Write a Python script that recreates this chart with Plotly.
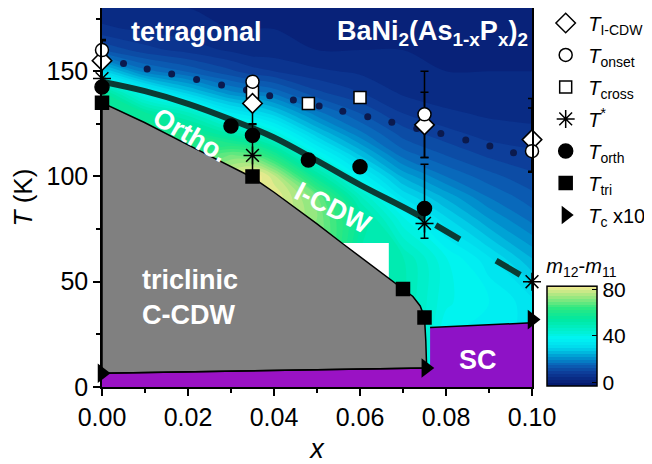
import plotly.graph_objects as go

# ---------------- data ----------------
# background field m12-m11
grid_x = [0, 0.01, 0.02, 0.03, 0.035, 0.04, 0.05, 0.06, 0.07, 0.08, 0.09, 0.1]
grid_T = [0, 20, 40, 60, 80, 90, 100, 110, 120, 130, 140, 150, 160, 170, 180]
grid_z = [
    [60, 60, 60, 60, 60, 60, 60, 55, 50, 36, 34, 33],
    [60, 60, 60, 60, 60, 60, 60, 55, 50, 37, 35, 34],
    [60, 60, 60, 62, 65, 65, 65, 55, 50, 40, 37, 33],
    [60, 60, 60, 65, 70, 72, 72, 52, 50, 40, 33, 25],
    [60, 60, 62, 70, 78, 80, 72, 55, 40, 30, 22, 16],
    [60, 60, 65, 75, 82, 82, 70, 48, 32, 24, 17, 13],
    [60, 62, 66, 80, 85, 78, 55, 37, 24, 17, 13, 10],
    [60, 62, 62, 70, 68, 60, 40, 27, 16, 12, 9, 8],
    [60, 60, 60, 52, 48, 42, 28, 18, 11, 8, 6, 5],
    [58, 55, 48, 35, 32, 28, 18, 12, 7, 5, 4, 4],
    [55, 38, 28, 20, 18, 16, 10, 7, 4, 3, 3, 3],
    [30, 18, 14, 10, 8, 7, 5, 4, 3, 2, 2, 2],
    [12, 8, 6, 4, 3, 3, 2, 2, 2, 1, 1, 1],
    [5, 4, 3, 2, 2, 2, 1, 1, 1, 1, 1, 1],
    [3, 2, 2, 1, 1, 1, 1, 1, 1, 1, 1, 1],
]

# triclinic (C-CDW) boundary
tri_x = [0, 0.01, 0.02, 0.03, 0.035, 0.04, 0.05, 0.0557, 0.06, 0.0666, 0.07, 0.0723, 0.074, 0.075, 0.0753, 0.0755]
tri_T = [135, 125.5, 115, 104.5, 99.5, 92.5, 77.5, 68.5, 62, 51.6, 46.5, 43, 38.5, 33, 22, 9]
# Tc x10 line under the triclinic phase
tcline_x = [0, 0.0755]
tcline_T = [6.5, 9]
# SC dome top
sc_x = [0.0763, 0.1]
sc_T = [28.2, 30.5]
# missing-data patch
gap_x = [0.0549, 0.0667]
gap_T = [50, 68.4]

# fit lines
orth_fit_x = [0, 0.01, 0.02, 0.03, 0.04, 0.05, 0.06, 0.07, 0.075]
orth_fit_T = [145, 140.5, 134.5, 127, 118.5, 107.5, 96, 85.5, 80]
orth_dash_x = [0.075, 0.08, 0.085, 0.09, 0.095, 0.1]
orth_dash_T = [80, 74, 68, 62, 56, 50]
dot_x = [0.005, 0.0105, 0.0162, 0.022, 0.0278, 0.0336, 0.039, 0.0445, 0.0505, 0.056,
         0.0618, 0.0674, 0.0732, 0.0788, 0.0846, 0.0902, 0.0957]
dot_T = [153.7, 151, 148.6, 146, 143.4, 141, 138.3, 136.3, 133.4, 131,
         128.3, 125.7, 122.8, 120.4, 117.3, 114.4, 111.3]

# markers
icdw_x = [0, 0.035, 0.075, 0.1]
icdw_T = [155, 134.7, 124.5, 117.5]
icdw_err = [10, 10, 15.5, 15]
onset_x = [0, 0.035, 0.075, 0.1]
onset_T = [160, 145, 129.5, 112]
onset_err_p = [4.5, 0, 20.5, 25]
onset_err_m = [0, 0, 20.5, 10]
cross_x = [0.035, 0.048, 0.06]
cross_T = [140, 134.7, 137.5]
star_x = [0, 0.035, 0.075, 0.1]
star_T = [146.5, 110, 77.7, 50]
star_err_p = [0, 15, 0, 0]
star_err_m = [0, 10, 0, 0]
orth_x = [0, 0.03, 0.035, 0.048, 0.06, 0.075]
orth_T = [142.5, 124, 119.5, 107.8, 104.6, 84.8]
orth_err_p = [0, 0, 0, 0, 0, 21]
orth_err_m = [0, 0, 0, 0, 0, 14.2]
tri_pts_x = [0, 0.035, 0.07, 0.075]
tri_pts_T = [135, 100, 46.5, 33]
tc_x = [0, 0.0753, 0.1]
tc_T = [6.5, 9, 32]

FONT = "Arial, Liberation Sans, sans-serif"

cscale = [
    [0.0, "#00166a"], [0.035, "#071f76"], [0.128, "#0d3c98"], [0.209, "#0a62b8"],
    [0.291, "#0096d0"], [0.384, "#00d8ec"], [0.477, "#00f4f4"], [0.558, "#00f0d0"],
    [0.674, "#00e8a0"], [0.791, "#30e880"], [0.907, "#a0e880"], [1.0, "#eeea90"],
]

fig = go.Figure()

fig.add_trace(go.Contour(
    x=grid_x, y=grid_T, z=grid_z, colorscale=cscale, zmin=-3, zmax=83,
    autocontour=False, contours=dict(start=-3, end=83, size=2.5, coloring="fill"),
    line=dict(width=0), showlegend=False, hoverinfo="skip",
    colorbar=dict(
        x=1.035, xanchor="left", xpad=0, y=0.003, yanchor="bottom", ypad=0,
        len=130, lenmode="pixels", thickness=50, thicknessmode="pixels",
        outlinecolor="black", outlinewidth=1.5,
        tickvals=[0, 40, 80], ticks="inside", ticklen=5, tickcolor="black",
        tickfont=dict(family=FONT, size=21, color="black"),
        title=dict(text="<i>m</i><sub>12</sub>-<i>m</i><sub>11</sub>", side="top",
                   font=dict(family=FONT, size=20, color="black")),
    ),
))

# white missing patch
fig.add_trace(go.Scatter(
    x=[gap_x[0], gap_x[1], gap_x[1], gap_x[0], gap_x[0]],
    y=[gap_T[0], gap_T[0], gap_T[1], gap_T[1], gap_T[0]],
    mode="lines", fill="toself", fillcolor="white", line=dict(width=0),
    showlegend=False, hoverinfo="skip"))

# purple strip and SC
fig.add_trace(go.Scatter(
    x=[0, tcline_x[1] + 0.001, tcline_x[1] + 0.001, tcline_x[1], 0, 0],
    y=[0, 0, tcline_T[1], tcline_T[1], tcline_T[0], 0],
    mode="lines", fill="toself", fillcolor="#9a12c4", line=dict(width=0),
    showlegend=False, hoverinfo="skip"))
fig.add_trace(go.Scatter(
    x=[sc_x[0], sc_x[1], sc_x[1], sc_x[0], sc_x[0]],
    y=[0, 0, sc_T[1], sc_T[0], 0],
    mode="lines", fill="toself", fillcolor="#8e12c6", line=dict(width=0),
    showlegend=False, hoverinfo="skip"))
fig.add_trace(go.Scatter(
    x=sc_x, y=sc_T, mode="lines", line=dict(color="black", width=1.5),
    showlegend=False, hoverinfo="skip"))

# gray triclinic polygon
fig.add_trace(go.Scatter(
    x=tri_x + tcline_x[::-1] + [tri_x[0]],
    y=tri_T + tcline_T[::-1] + [tri_T[0]],
    mode="lines", fill="toself", fillcolor="#808080", line=dict(color="black", width=1.5),
    showlegend=False, hoverinfo="skip"))

# fit lines
fig.add_trace(go.Scatter(
    x=dot_x, y=dot_T, mode="markers", marker=dict(color="#0b1a4e", size=7),
    showlegend=False, hoverinfo="skip"))
fig.add_trace(go.Scatter(
    x=orth_fit_x, y=orth_fit_T, mode="lines", line=dict(color="#0b3b34", width=6, shape="spline"),
    showlegend=False, hoverinfo="skip"))
fig.add_trace(go.Scatter(
    x=orth_dash_x, y=orth_dash_T, mode="lines",
    line=dict(color="#0b3b34", width=6, dash="0px,13px,28px,42px,28px,60px"),
    showlegend=False, hoverinfo="skip"))

# error bars (drawn beneath markers)
def errtrace(x, y, plus, minus):
    return go.Scatter(
        x=x, y=y, mode="markers", marker=dict(size=1, color="rgba(0,0,0,0)"),
        error_y=dict(type="data", array=plus, arrayminus=minus, symmetric=False,
                     color="black", thickness=1.5, width=4),
        showlegend=False, hoverinfo="skip", cliponaxis=False)

fig.add_trace(errtrace(icdw_x, icdw_T, icdw_err, icdw_err))
fig.add_trace(errtrace(onset_x, onset_T, onset_err_p, onset_err_m))
fig.add_trace(errtrace(star_x, star_T, star_err_p, star_err_m))
fig.add_trace(errtrace(orth_x, orth_T, orth_err_p, orth_err_m))

# T_c x10 line
fig.add_trace(go.Scatter(
    x=tcline_x, y=tcline_T, mode="lines", line=dict(color="black", width=1.5),
    showlegend=False, hoverinfo="skip"))

def mtrace(x, y, name, symbol, size, color, lcolor="black", lw=1.5, rank=1):
    return go.Scatter(
        x=x, y=y, mode="markers", name=name, legendgroup=name, legendrank=rank,
        marker=dict(symbol=symbol, size=size, color=color, line=dict(color=lcolor, width=lw)),
        cliponaxis=False)

fig.add_trace(mtrace(tri_pts_x, tri_pts_T, "<i>T</i><sub>tri</sub>", "square", 13, "black", rank=6))
fig.add_trace(mtrace(orth_x, orth_T, "<i>T</i><sub>orth</sub>", "circle", 14, "black", rank=5))
fig.add_trace(mtrace(star_x, star_T, "<i>T</i><sup>*</sup>", "asterisk-open", 15, "black", rank=4))
fig.add_trace(mtrace(cross_x, cross_T, "<i>T</i><sub>cross</sub>", "square", 12, "white", rank=3))
fig.add_trace(mtrace(icdw_x, icdw_T, "<i>T</i><sub>I-CDW</sub>", "diamond", 15, "white", rank=1))
fig.add_trace(mtrace(onset_x, onset_T, "<i>T</i><sub>onset</sub>", "circle", 13, "white", rank=2))
fig.add_trace(mtrace(tc_x, tc_T, "<i>T</i><sub>c</sub> x10", "triangle-right", 17, "black", lw=0, rank=7))

# annotations
def lab(text, x, y, angle=0, xanchor="center", size=27):
    fig.add_annotation(x=x, y=y, text=f"<b>{text}</b>", showarrow=False, textangle=angle,
                       xanchor=xanchor, yanchor="middle",
                       font=dict(family=FONT, size=size, color="white"))

lab("tetragonal", 0.0219, 168.6)
lab("BaNi<sub>2</sub>(As<sub>1-x</sub>P<sub>x</sub>)<sub>2</sub>", 0.0995, 168, xanchor="right")
lab("Ortho.", 0.0205, 119.7, angle=30)
lab("I-CDW", 0.0537, 85, angle=27)
lab("triclinic", 0.0088, 50.8, xanchor="left")
lab("C-CDW", 0.0088, 34.2, xanchor="left")
lab("SC", 0.0874, 12.8)

axis_common = dict(showline=True, linecolor="black", linewidth=1.5, mirror=True,
                   showgrid=False, zeroline=False, ticks="outside", ticklen=7,
                   tickwidth=1.5, tickcolor="black",
                   tickfont=dict(family=FONT, size=25, color="black"))

fig.update_xaxes(range=[0, 0.1], tick0=0, dtick=0.02, tickformat=".2f",
                 minor=dict(dtick=0.01, ticklen=4, tickwidth=1.5, tickcolor="black", ticks="outside"),
                 title=dict(text="<i>x</i>", font=dict(family=FONT, size=27, color="black"), standoff=12),
                 **axis_common)
fig.update_yaxes(range=[0, 180], tick0=0, dtick=50,
                 minor=dict(dtick=25, ticklen=4, tickwidth=1.5, tickcolor="black", ticks="outside"),
                 title=dict(text="<i>T</i> (K)", font=dict(family=FONT, size=26, color="black"), standoff=8),
                 **axis_common)

fig.update_layout(
    width=644, height=456,
    margin=dict(l=94, r=120, t=0, b=77, autoexpand=False),
    paper_bgcolor="white", plot_bgcolor="white",
    legend=dict(x=1.026, xanchor="left", y=1.012, yanchor="top", traceorder="grouped",
                tracegroupgap=3, itemwidth=35, bgcolor="rgba(0,0,0,0)",
                font=dict(family=FONT, size=20, color="black")),
)

fig.write_html("out.html")
